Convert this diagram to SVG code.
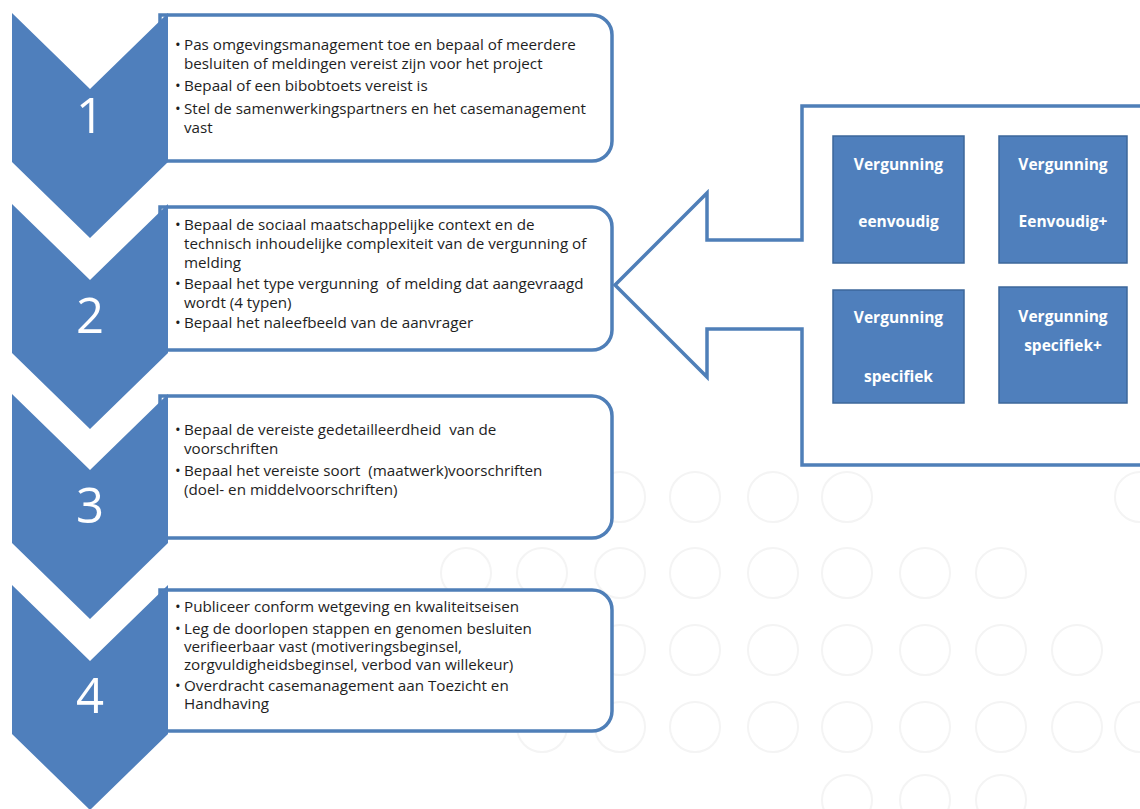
<svg xmlns="http://www.w3.org/2000/svg" width="1140" height="809" viewBox="0 0 1140 809">
<style>
.chev{fill:#4f7fbc}
.box{fill:#ffffff;stroke:#4f7fb8;stroke-width:3.5}
.num{font-family:"Open Sans","Liberation Sans",sans-serif;font-size:49px;fill:#ffffff;text-anchor:middle}
.t{font-family:"Open Sans","Liberation Sans",sans-serif;font-size:15.2px;fill:#1e1e1e}
.sq{fill:#4f7fbc;stroke:#3c679a;stroke-width:1.5}
.sqt{font-family:"Open Sans","Liberation Sans",sans-serif;font-size:15.5px;font-weight:700;fill:#ffffff;text-anchor:middle}
.callout{fill:#ffffff;stroke:#4f7fb8;stroke-width:3.5;stroke-linejoin:miter}
.bg{fill:none;stroke:#f4f4f4;stroke-width:2}
</style>
<rect width="1140" height="809" fill="#ffffff"/>
<g id="background-circles">
<circle class="bg" cx="620" cy="497" r="25"/><circle class="bg" cx="695" cy="497" r="25"/><circle class="bg" cx="773" cy="497" r="25"/><circle class="bg" cx="847" cy="497" r="25"/><circle class="bg" cx="1140" cy="497" r="25"/>
<circle class="bg" cx="466" cy="573" r="25"/><circle class="bg" cx="542" cy="573" r="25"/><circle class="bg" cx="620" cy="573" r="25"/><circle class="bg" cx="695" cy="573" r="25"/><circle class="bg" cx="773" cy="573" r="25"/><circle class="bg" cx="847" cy="573" r="25"/><circle class="bg" cx="925" cy="573" r="25"/><circle class="bg" cx="1001" cy="573" r="25"/>
<circle class="bg" cx="620" cy="650" r="25"/><circle class="bg" cx="695" cy="650" r="25"/><circle class="bg" cx="773" cy="650" r="25"/><circle class="bg" cx="847" cy="650" r="25"/><circle class="bg" cx="925" cy="650" r="25"/><circle class="bg" cx="1001" cy="650" r="25"/><circle class="bg" cx="1077" cy="650" r="25"/>
<circle class="bg" cx="542" cy="727" r="25"/><circle class="bg" cx="620" cy="727" r="25"/><circle class="bg" cx="695" cy="727" r="25"/><circle class="bg" cx="773" cy="727" r="25"/><circle class="bg" cx="847" cy="727" r="25"/><circle class="bg" cx="925" cy="727" r="25"/><circle class="bg" cx="1001" cy="727" r="25"/><circle class="bg" cx="1077" cy="727" r="25"/><circle class="bg" cx="1140" cy="727" r="25"/>
<circle class="bg" cx="847" cy="800" r="25"/><circle class="bg" cx="925" cy="800" r="25"/><circle class="bg" cx="1001" cy="800" r="25"/>
</g>
<g id="connectors">
<path id="callout-arrow" class="callout" d="M615,285 L707,193 L707,240 L802,240 L802,106 L1150,106 L1150,465 L802,465 L802,329 L707,329 L707,377 Z"/>
</g>
<g id="step1">
<path class="box" d="M160,15 H592 A20,20 0 0 1 612,35 V141 A20,20 0 0 1 592,161 H160 Z"/>
<path class="chev" d="M12,13 L90,89 L168,13 L168,162 L90,238 L12,162 Z"/>
<text class="num" x="90" y="133">1</text>
<text class="t" x="175" y="50">•</text><text class="t" x="184" y="50">Pas omgevingsmanagement toe en bepaal of meerdere</text>
<text class="t" x="184" y="69">besluiten of meldingen vereist zijn voor het project</text>
<text class="t" x="175" y="91">•</text><text class="t" x="184" y="91">Bepaal of een bibobtoets vereist is</text>
<text class="t" x="175" y="114">•</text><text class="t" x="184" y="114">Stel de samenwerkingspartners en het casemanagement</text>
<text class="t" x="184" y="133">vast</text>
</g>
<g id="step2">
<path class="box" d="M160,207 H592 A20,20 0 0 1 612,227 V330 A20,20 0 0 1 592,350 H160 Z"/>
<path class="chev" d="M12,204 L90,280 L168,204 L168,353 L90,429 L12,353 Z"/>
<text class="num" x="90" y="333">2</text>
<text class="t" x="175" y="230">•</text><text class="t" x="184" y="230">Bepaal de sociaal maatschappelijke context en de</text>
<text class="t" x="184" y="249">technisch inhoudelijke complexiteit van de vergunning of</text>
<text class="t" x="184" y="268">melding</text>
<text class="t" x="175" y="289">•</text><text class="t" x="184" y="289" xml:space="preserve">Bepaal het type vergunning  of melding dat aangevraagd</text>
<text class="t" x="184" y="308">wordt (4 typen)</text>
<text class="t" x="175" y="328">•</text><text class="t" x="184" y="328">Bepaal het naleefbeeld van de aanvrager</text>
</g>
<g id="step3">
<path class="box" d="M160,396 H592 A20,20 0 0 1 612,416 V518 A20,20 0 0 1 592,538 H160 Z"/>
<path class="chev" d="M12,394 L90,470 L168,394 L168,543 L90,619 L12,543 Z"/>
<text class="num" x="90" y="523">3</text>
<text class="t" x="175" y="435">•</text><text class="t" x="184" y="435" xml:space="preserve">Bepaal de vereiste gedetailleerdheid  van de</text>
<text class="t" x="184" y="454">voorschriften</text>
<text class="t" x="175" y="476">•</text><text class="t" x="184" y="476" xml:space="preserve">Bepaal het vereiste soort  (maatwerk)voorschriften</text>
<text class="t" x="184" y="495">(doel- en middelvoorschriften)</text>
</g>
<g id="step4">
<path class="box" d="M160,590 H592 A20,20 0 0 1 612,610 V711 A20,20 0 0 1 592,731 H160 Z"/>
<path class="chev" d="M12,585 L90,661 L168,585 L168,734 L90,810 L12,734 Z"/>
<text class="num" x="90" y="713">4</text>
<text class="t" x="175" y="612">•</text><text class="t" x="184" y="612">Publiceer conform wetgeving en kwaliteitseisen</text>
<text class="t" x="175" y="634">•</text><text class="t" x="184" y="634">Leg de doorlopen stappen en genomen besluiten</text>
<text class="t" x="184" y="652">verifieerbaar vast (motiveringsbeginsel,</text>
<text class="t" x="184" y="670">zorgvuldigheidsbeginsel, verbod van willekeur)</text>
<text class="t" x="175" y="691">•</text><text class="t" x="184" y="691">Overdracht casemanagement aan Toezicht en</text>
<text class="t" x="184" y="709">Handhaving</text>
</g>
<g id="type-eenvoudig">
<rect class="sq" x="833" y="136" width="131" height="127"/>
<text class="sqt" x="898.5" y="170">Vergunning</text>
<text class="sqt" x="898.5" y="227">eenvoudig</text>
</g>
<g id="type-eenvoudig-plus">
<rect class="sq" x="999" y="136" width="128" height="127"/>
<text class="sqt" x="1063" y="170">Vergunning</text>
<text class="sqt" x="1063" y="227">Eenvoudig+</text>
</g>
<g id="type-specifiek">
<rect class="sq" x="833" y="290" width="131" height="113"/>
<text class="sqt" x="898.5" y="323">Vergunning</text>
<text class="sqt" x="898.5" y="382">specifiek</text>
</g>
<g id="type-specifiek-plus">
<rect class="sq" x="999" y="287" width="128" height="116"/>
<text class="sqt" x="1063" y="322">Vergunning</text>
<text class="sqt" x="1063" y="351">specifiek+</text>
</g>
</svg>
